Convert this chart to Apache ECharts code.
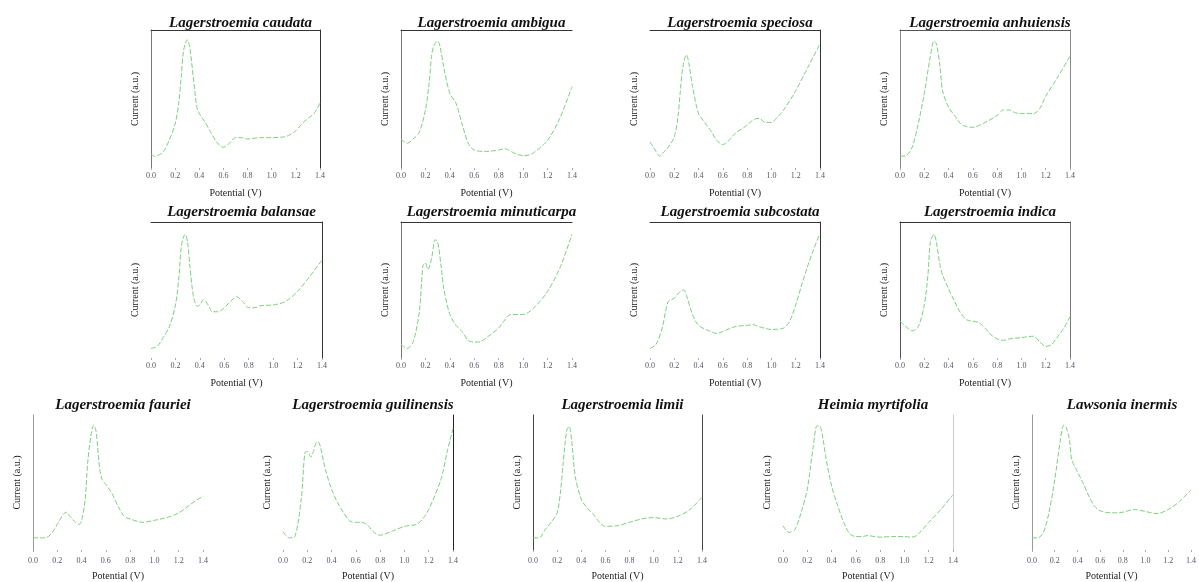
<!DOCTYPE html>
<html><head><meta charset="utf-8">
<script src="https://cdn.jsdelivr.net/npm/echarts@6/dist/echarts.min.js"></script>
<style>html,body{margin:0;padding:0;background:#fff}#c{width:1199px;height:582px}</style>
</head><body><div id="c"></div>
<script>
const xTickLabels = ['0.0','0.2','0.4','0.6','0.8','1.0','1.2','1.4'];
const titles = ['Lagerstroemia caudata','Lagerstroemia ambigua','Lagerstroemia speciosa','Lagerstroemia anhuiensis',
  'Lagerstroemia balansae','Lagerstroemia minuticarpa','Lagerstroemia subcostata','Lagerstroemia indica',
  'Lagerstroemia fauriei','Lagerstroemia guilinensis','Lagerstroemia limii','Heimia myrtifolia','Lawsonia inermis'];

const caudataX = [0,0.03,0.1,0.15,0.2,0.23,0.25,0.27,0.3,0.32,0.35,0.38,0.4,0.45,0.5,0.55,0.6,0.65,0.7,0.75,0.8,0.9,1.0,1.1,1.15,1.2,1.25,1.3,1.35,1.4];
const caudataY = [10,8.5,11.6,20,32,47,66,85,93,88,66,44,39.5,33,25,18,15,18,22,22,21,22,22,22.5,24,27,32,36,39.5,47];
const ambiguaX = [0,0.05,0.1,0.15,0.2,0.23,0.25,0.27,0.3,0.32,0.35,0.4,0.45,0.5,0.55,0.6,0.7,0.8,0.85,0.9,0.95,1.0,1.05,1.1,1.2,1.3,1.4];
const ambiguaY = [21,18,21,26,42,61,81,89,92,88,73,54,47,32,18,13,12,13,14,12,10,9,9.4,12,20,36,59];
const speciosaX = [0,0.05,0.08,0.1,0.15,0.2,0.23,0.25,0.27,0.3,0.32,0.35,0.4,0.45,0.5,0.55,0.6,0.65,0.7,0.8,0.85,0.9,0.95,1.0,1.05,1.1,1.2,1.3,1.4];
const speciosaY = [19,12,8.5,10.4,15,22.5,37,56,73,82,76,59,39.5,33,27,20,17,20,25,31,35,36,33,33,37,42,56,73,90];
const anhuiensisX = [0,0.05,0.1,0.15,0.2,0.25,0.28,0.3,0.33,0.35,0.4,0.45,0.5,0.55,0.6,0.7,0.8,0.85,0.9,0.95,1.0,1.1,1.15,1.2,1.3,1.4];
const anhuiensisY = [8.5,9,15,32,54,81,92,90,73,56,44,38,32,30,29.5,33,38,42,42,40,39.5,39.5,43,52,66,81];
const balansaeX = [0,0.05,0.1,0.15,0.2,0.23,0.25,0.28,0.3,0.32,0.35,0.38,0.4,0.43,0.45,0.48,0.5,0.55,0.6,0.65,0.7,0.75,0.8,0.85,0.9,1.0,1.1,1.2,1.3,1.4];
const balansaeY = [7,8.5,15,23,39,61,83,91,85,66,44,38,39,43,41.5,37,34,34,37,41.5,45,41.5,37,37,38.5,39,41.5,49,60,72];
const minuticarpaX = [0,0.05,0.1,0.15,0.18,0.2,0.22,0.25,0.28,0.3,0.33,0.35,0.4,0.45,0.5,0.55,0.6,0.65,0.7,0.8,0.85,0.9,1.0,1.1,1.2,1.3,1.4];
const minuticarpaY = [10,7,12,34,68,70,65,73,87,85.5,66,51,32,24,19.5,13,11.7,12,15,22,28,32,32,38,49,66,91];
const subcostataX = [0,0.05,0.1,0.15,0.2,0.25,0.28,0.3,0.35,0.4,0.5,0.55,0.6,0.7,0.8,0.85,0.9,1.0,1.1,1.15,1.2,1.25,1.3,1.35,1.4];
const subcostataY = [7,10,22,41.5,44,49,50,46,32,24,19.5,18,19.5,23,24,24.5,23,21,22,27,39,54,68,80.5,91.5];
const indicaX = [0,0.05,0.1,0.15,0.2,0.23,0.25,0.28,0.3,0.33,0.35,0.4,0.45,0.5,0.55,0.6,0.65,0.7,0.75,0.8,0.85,0.9,1.0,1.1,1.15,1.2,1.25,1.3,1.35,1.4];
const indicaY = [27,23,20,23,39,61,85,91,85,68,61,51,41.5,33,28,27,26,22,17,14,13,14,15,16,12,8.5,10,16,22,30.5];
const faurieiX = [0,0.1,0.15,0.2,0.25,0.28,0.3,0.35,0.38,0.4,0.43,0.45,0.48,0.5,0.52,0.55,0.57,0.6,0.65,0.7,0.75,0.8,0.9,1.0,1.1,1.2,1.3,1.4];
const faurieiY = [9,9,12,19,26.5,28,25.5,20.5,19,21.5,37.5,64.5,86.5,92.5,87.7,59.5,52,48.5,42,32.5,25,23,20.5,22,24,27.5,34,40];
const guilinensisX = [0,0.05,0.1,0.15,0.18,0.2,0.23,0.25,0.28,0.3,0.35,0.4,0.45,0.5,0.55,0.6,0.65,0.7,0.75,0.8,0.9,1.0,1.1,1.15,1.2,1.3,1.35,1.4];
const guilinensisY = [13.5,9,10.5,37.5,72,73,69,73,80,79,59.5,45,35,27.5,21.5,20.5,20.5,18,13,11,14,17.5,19,23,30,52,72,90];
const limiiX = [0,0.05,0.1,0.15,0.2,0.23,0.25,0.28,0.3,0.32,0.35,0.4,0.45,0.5,0.55,0.6,0.7,0.8,0.9,1.0,1.1,1.2,1.3,1.4];
const limiiY = [9,9,15,20.5,27.5,45,64.5,89,91.5,81.5,54.5,37.5,31,26.5,20.5,17.5,18,20.5,23,24,23,25,30,39];
const heimiaX = [0,0.05,0.1,0.15,0.2,0.25,0.28,0.3,0.33,0.35,0.4,0.45,0.5,0.55,0.6,0.65,0.7,0.75,0.8,0.9,1.0,1.05,1.1,1.2,1.3,1.4];
const heimiaY = [18,13,15.5,28,45,77.5,92,92,82,70,47.5,33,20.5,12,10,10,10.7,10,9.5,10,10,9.5,10.7,20.5,30,41];
const lawsoniaX = [0,0.05,0.1,0.15,0.2,0.25,0.28,0.3,0.33,0.35,0.4,0.45,0.5,0.55,0.6,0.7,0.8,0.9,1.0,1.1,1.2,1.3,1.4];
const lawsoniaY = [9,9,13,28,52,81.5,92.5,91,81.5,67,58,49.5,40,32.5,29,27.5,28,30,28.5,27,30,36,44.5];

const seriesX = [caudataX, ambiguaX, speciosaX, anhuiensisX, balansaeX, minuticarpaX, subcostataX, indicaX, faurieiX, guilinensisX, limiiX, heimiaX, lawsoniaX];
const seriesY = [caudataY, ambiguaY, speciosaY, anhuiensisY, balansaeY, minuticarpaY, subcostataY, indicaY, faurieiY, guilinensisY, limiiY, heimiaY, lawsoniaY];

// layout: left, top, width, height, border sides (L,T,R) with colours
const layout = [
  {l:151,t:30,w:169,h:138,L:'#777',T:'#333',R:'#333'},
  {l:401,t:30,w:171,h:138,L:'#777',T:'#333'},
  {l:650,t:30,w:170,h:138,T:'#333',R:'#333'},
  {l:900,t:30,w:170,h:138,L:'#888',T:'#555',R:'#888'},
  {l:151,t:222,w:171,h:136,T:'#333',R:'#333'},
  {l:401,t:222,w:171,h:136,L:'#777',T:'#333'},
  {l:650,t:222,w:170,h:136,T:'#333',R:'#333'},
  {l:900,t:222,w:170,h:136,L:'#555',T:'#333',R:'#777'},
  {l:33,t:415,w:170,h:136,L:'#999'},
  {l:283,t:415,w:170,h:136,R:'#222'},
  {l:533,t:415,w:169,h:136,L:'#444',R:'#444'},
  {l:783,t:415,w:170,h:136,R:'#ccc'},
  {l:1032,t:415,w:170,h:136,L:'#999'}
];

const grid = [], xAxis = [], yAxis = [], series = [], title = [];
const serif = 'Liberation Serif';
layout.forEach((g, i) => {
  grid.push({left:g.l, top:g.t, width:g.w, height:g.h, containLabel:false});
  const row3 = g.t > 400;
  title.push({text:titles[i], left:g.l + g.w/2, top:g.t - (row3 ? 22 : (g.t > 200 ? 22 : 19)), textAlign:'center',
    textStyle:{fontFamily:serif, fontStyle:'italic', fontWeight:'bold', fontSize:15, color:'#111'}});
  const xi = xAxis.length;
  xAxis.push({gridIndex:i, type:'value', min:0, max:1.4, interval:0.2, position:'bottom',
    axisLine:{show:false}, axisTick:{show:true, length:2, lineStyle:{color:'#aaa'}}, splitLine:{show:false},
    axisLabel:{fontFamily:serif, fontSize:8, color:'#556', margin: row3 ? 7 : 4,
      formatter:(v) => xTickLabels[Math.round(v/0.2)] || ''},
    name:'Potential (V)', nameLocation:'middle', nameGap: row3 ? 21 : 20,
    nameTextStyle:{fontFamily:serif, fontSize:10, color:'#222'}});
  const yi = yAxis.length;
  yAxis.push({gridIndex:i, type:'value', min:0, max:100, position:'left',
    axisLine:{show:!!g.L, lineStyle:{color:g.L || '#000', width:1}}, axisTick:{show:false}, axisLabel:{show:false}, splitLine:{show:false},
    name:'Current (a.u.)', nameLocation:'middle', nameGap:11, nameRotate:90,
    nameTextStyle:{fontFamily:serif, fontSize:10, color:'#222'}});
  if (g.T) xAxis.push({gridIndex:i, type:'value', min:0, max:1.4, position:'top',
    axisLine:{show:true, onZero:false, lineStyle:{color:g.T, width:1}}, axisTick:{show:false}, axisLabel:{show:false}, splitLine:{show:false}});
  if (g.R) yAxis.push({gridIndex:i, type:'value', min:0, max:100, position:'right',
    axisLine:{show:true, onZero:false, lineStyle:{color:g.R, width:1}}, axisTick:{show:false}, axisLabel:{show:false}, splitLine:{show:false}});
  series.push({type:'line', xAxisIndex:xi, yAxisIndex:yi, smooth:0.3, showSymbol:false, silent:true,
    data: seriesX[i].map((x, k) => [x, seriesY[i][k]]),
    lineStyle:{color:'#7fcf7f', width:1, type:[5,2]}});
});

const chart = echarts.init(document.getElementById('c'));
chart.setOption({animation:false, backgroundColor:'#fff', title, grid, xAxis, yAxis, series});
</script></body></html>
